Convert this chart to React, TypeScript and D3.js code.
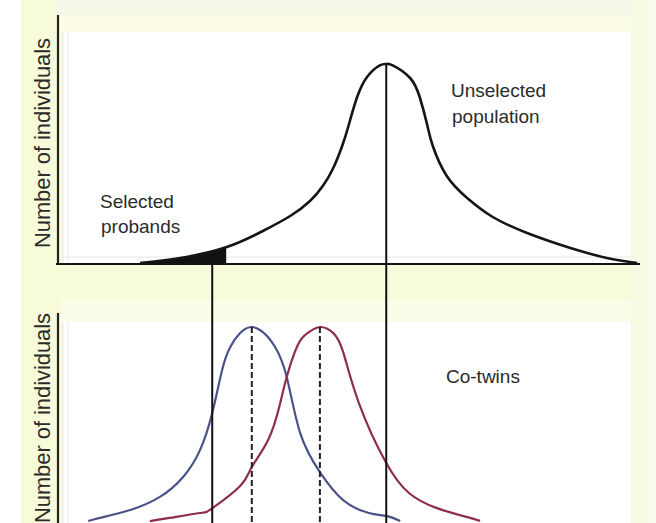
import React from "react";
import * as d3 from "d3";

// Liability scale (arbitrary units) and relative frequencies
const populationX = [14.1, 21.0, 29.0, 35.2, 39.9, 43.3, 45.5, 47.3, 49.0, 50.2, 51.4, 53.1, 55.3, 56.4, 57.5, 60.5, 62.2, 63.4, 64.4, 66.8, 70.3, 74.7, 80.6, 87.5, 94.3, 99.5];
const populationY = [0.005, 0.03, 0.085, 0.165, 0.24, 0.315, 0.39, 0.48, 0.605, 0.72, 0.835, 0.935, 0.993, 1.0, 0.993, 0.93, 0.83, 0.7, 0.59, 0.44, 0.33, 0.235, 0.155, 0.085, 0.03, 0.005];

const cotwinBlueX = [5.2, 7.2, 12.4, 17.5, 21.5, 24.4, 26.5, 28.2, 29.6, 31.3, 33.3, 35.4, 37.3, 39.3, 41.6, 45.0, 49.0, 53.4, 56.4, 58.8];
const cotwinBlueY = [0.01, 0.026, 0.066, 0.133, 0.235, 0.372, 0.561, 0.781, 0.898, 0.969, 1.0, 0.969, 0.898, 0.745, 0.46, 0.26, 0.117, 0.051, 0.036, 0.01];

const cotwinRedX = [15.8, 19.2, 24.4, 26.6, 31.3, 33.3, 36.1, 38.1, 39.3, 41.2, 42.9, 45.0, 47.3, 49.0, 51.7, 56.4, 60.3, 65.0, 70.8, 72.5];
const cotwinRedY = [0.01, 0.026, 0.051, 0.077, 0.189, 0.286, 0.423, 0.602, 0.745, 0.908, 0.969, 1.0, 0.969, 0.872, 0.612, 0.306, 0.153, 0.077, 0.026, 0.01];

const thresholdX = 28.9;
const probandMeanX = 26.5;
const populationMeanX = 56.4;
const blueMeanX = 33.3;
const redMeanX = 45.0;

const yAxisTitle = "Number of individuals";
const populationLabel = ["Unselected", "population"];
const probandLabel = ["Selected", "probands"];
const cotwinLabel = "Co-twins";

type Pt = [number, number];
const zip = (xs: number[], ys: number[]): Pt[] => xs.map((x, i) => [x, ys[i]]);

export default function App() {
  const W = 656;
  const H = 523;
  const x = d3.scaleLinear().domain([0, 100]).range([58, 640]);
  const yTop = d3.scaleLinear().domain([0, 1]).range([264, 64]);
  const yBot = d3.scaleLinear().domain([0, 1]).range([523, 327]);

  const pop = zip(populationX, populationY);
  const blue = zip(cotwinBlueX, cotwinBlueY);
  const red = zip(cotwinRedX, cotwinRedY);

  const curve = d3.curveNatural;
  const lineTop = d3.line<Pt>().x((d) => x(d[0])).y((d) => yTop(d[1])).curve(curve);
  const areaTop = d3.area<Pt>().x((d) => x(d[0])).y0(yTop(0)).y1((d) => yTop(d[1])).curve(curve);
  const lineBot = d3.line<Pt>().x((d) => x(d[0])).y((d) => yBot(d[1])).curve(curve);

  const font = "'Liberation Sans', Arial, sans-serif";
  const textFill = "#2b2b2b";

  return (
    <svg width={W} height={H} style={{ position: "absolute", left: 0, top: 0 }} xmlns="http://www.w3.org/2000/svg">
      <defs>
        <clipPath id="tailClip">
          <rect x={0} y={0} width={x(thresholdX)} height={H} />
        </clipPath>
      </defs>
      {/* backdrop */}
      <rect x={0} y={0} width={W} height={H} fill="#ffffff" />
      <rect x={21} y={0} width={627} height={H} fill="#f7fbd9" />
      <rect x={55} y={0} width={593} height={15} fill="#f5f8e8" />
      <rect x={55} y={15} width={593} height={17} fill="#fdfde6" />
      <rect x={631} y={0} width={17} height={H} fill="#f7fae2" />
      <rect x={648} y={0} width={8} height={H} fill="#fafbee" />
      <rect x={60} y={300} width={571} height={22} fill="#fafde8" />

      {/* plot panels */}
      <rect x={62} y={32} width={569} height={231} fill="#ffffff" />
      <rect x={62} y={322} width={569} height={H - 322} fill="#ffffff" />
      <line x1={63} x2={63} y1={32} y2={263} stroke="#e4e4e4" />
      <line x1={68} x2={68} y1={32} y2={263} stroke="#ececec" />
      <line x1={62} x2={631} y1={257} y2={257} stroke="#e6e6e6" />
      <line x1={63} x2={63} y1={322} y2={H} stroke="#e4e4e4" />
      <line x1={68} x2={68} y1={322} y2={H} stroke="#ececec" />

      {/* upper panel: unselected population */}
      <path d={areaTop(pop) ?? ""} fill="#111" clipPath="url(#tailClip)" />
      <path d={lineTop(pop) ?? ""} fill="none" stroke="#151515" strokeWidth={2.6} />
      <line x1={58} x2={58} y1={15} y2={265} stroke="#222" strokeWidth={2.2} />
      <line x1={56} x2={x(100)} y1={yTop(0)} y2={yTop(0)} stroke="#151515" strokeWidth={2.2} />

      {/* lower panel: co-twins */}
      <line x1={58} x2={58} y1={313} y2={H} stroke="#222" strokeWidth={2.2} />
      <path d={lineBot(blue) ?? ""} fill="none" stroke="#4a5288" strokeWidth={2.2} />
      <path d={lineBot(red) ?? ""} fill="none" stroke="#8e2d4e" strokeWidth={2.2} />
      <line x1={x(blueMeanX)} x2={x(blueMeanX)} y1={yBot(1)} y2={H} stroke="#222" strokeWidth={2} strokeDasharray="6,3" />
      <line x1={x(redMeanX)} x2={x(redMeanX)} y1={yBot(1)} y2={H} stroke="#222" strokeWidth={2} strokeDasharray="6,3" />

      {/* connecting means */}
      <line x1={x(probandMeanX)} x2={x(probandMeanX)} y1={yTop(0)} y2={H} stroke="#111" strokeWidth={2} />
      <line x1={x(populationMeanX)} x2={x(populationMeanX)} y1={yTop(1)} y2={H} stroke="#111" strokeWidth={2} />

      {/* labels */}
      <g fontFamily={font} fontSize={19} fill={textFill}>
        <text x={451} y={97}>{populationLabel[0]}</text>
        <text x={452} y={123}>{populationLabel[1]}</text>
        <text x={100} y={208}>{probandLabel[0]}</text>
        <text x={101} y={233}>{probandLabel[1]}</text>
        <text x={446} y={383}>{cotwinLabel}</text>
      </g>
      <g fontFamily={font} fontSize={22} fill={textFill}>
        <text transform="translate(50,143) rotate(-90)" textAnchor="middle" textLength={210} lengthAdjust="spacingAndGlyphs">{yAxisTitle}</text>
        <text transform="translate(50,418) rotate(-90)" textAnchor="middle" textLength={210} lengthAdjust="spacingAndGlyphs">{yAxisTitle}</text>
      </g>
    </svg>
  );
}
